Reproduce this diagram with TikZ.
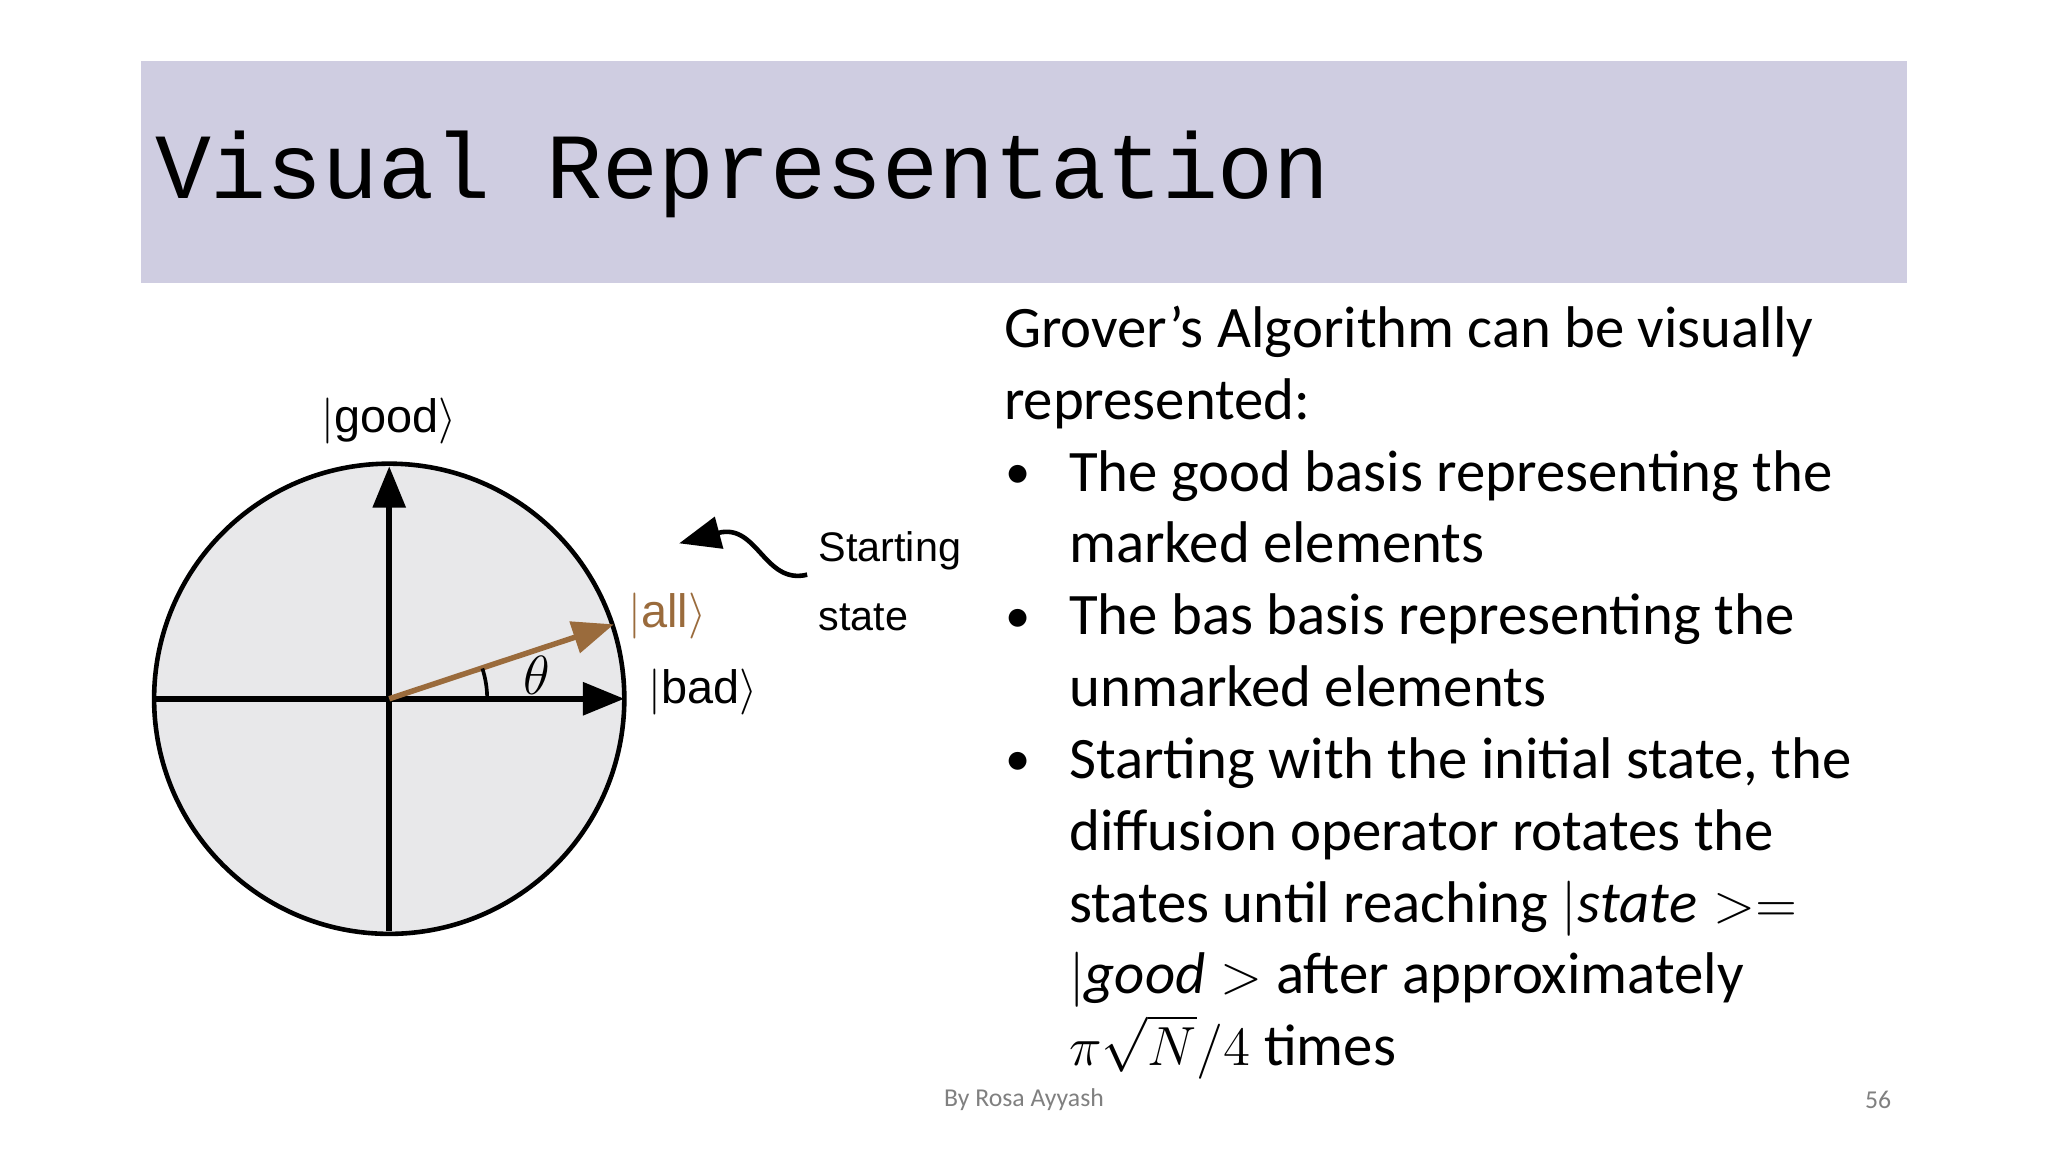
\documentclass[tikz,border=0pt]{standalone}
\usepackage{fontspec}
\setmainfont{Carlito}
\newfontfamily\monof{Liberation Mono}
\newfontfamily\arialf{Liberation Sans}
\usetikzlibrary{arrows.meta,calc}
\definecolor{titlebar}{HTML}{CFCDE1}
\definecolor{diskfill}{HTML}{E8E8EA}
\definecolor{brownarr}{HTML}{9A6B3C}
\tikzset{
  axis/.style={line width=1.2pt,-{Triangle[length=9pt,width=7pt]}},
  diag/.style={font=\arialf\fontsize{10.2}{12}\selectfont,inner sep=0pt},
  body/.style={font=\fontsize{12.8}{15}\selectfont,anchor=base west,inner sep=0pt},
  foot/.style={font=\fontsize{5.6}{7}\selectfont,text=gray,inner sep=0pt}
}
\begin{document}
\begin{tikzpicture}[x=0.01cm,y=-0.01cm]
\useasboundingbox (0,0) rectangle (1568,882);
\fill[white] (0,0) rectangle (1568,882);
\fill[titlebar] (108,47) rectangle (1460,217);
\node[anchor=base west,inner sep=0pt,font=\monof\fontsize{20.3}{22}\selectfont] (title) at (118,152) {Visual Representation};
% diagram
\coordinate (O) at (298,535);
\draw[fill=diskfill,line width=1pt] (O) circle (180);
\coordinate (L) at (118,535);
\coordinate (R) at (478,535);
\coordinate (B) at (298,713);
\coordinate (T) at (298,357);
\coordinate (A) at (470,478);
\draw[line width=1.2pt] (L) -- (O);
\draw[axis] (O) -- (R);
\draw[line width=1.2pt] (B) -- (O);
\draw[axis] (O) -- (T);
\draw[axis,brownarr] (O) -- (A);
\draw[line width=0.8pt] ($(O)+(75,0)$) arc[start angle=0,end angle=-18,radius=75];
\node[diag,font=\fontsize{13}{16}\selectfont] (theta) at (411,517) {$\theta$};
\node[diag] (good) at (298,322) {$|$good$\rangle$};
\node[diag] (bad) at (538,530) {$|$bad$\rangle$};
\node[diag,text=brownarr] (all) at (511,472) {$|$all$\rangle$};
\node[diag,anchor=west,align=left,font=\arialf\fontsize{9}{15}\selectfont] (start) at (626,445) {Starting\\state};
\coordinate (sq) at (520,416);
\draw[line width=1pt,-{Triangle[length=9pt,width=7pt]}] (618,440) .. controls (585,448) and (580,400) .. (sq);
% text
\node[body] (t1) at (768,266) {Grover’s Algorithm can be visually};
\node[body] (t2) at (768,321) {represented:};
\foreach \y/\t in {376/{The good basis representing the},431/{marked elements},486/{The bas basis representing the},541/{unmarked elements},596/{Starting with the initial state, the},651/{diffusion operator rotates the},706/{states until reaching $|\mathit{state}>=$},761/{$|\mathit{good}>$ after approximately},816/{$\pi\sqrt{N}/4$ times}}
  \node[body] at (818,\y) {\t};
\foreach \y in {376,486,596}
  \node[body,font=\fontsize{11}{13}\selectfont] at (769,\y-2) {•};
\node[foot] (by) at (784,842) {By Rosa Ayyash};
\node[foot] (pg) at (1438,842) {56};
\end{tikzpicture}
\end{document}
